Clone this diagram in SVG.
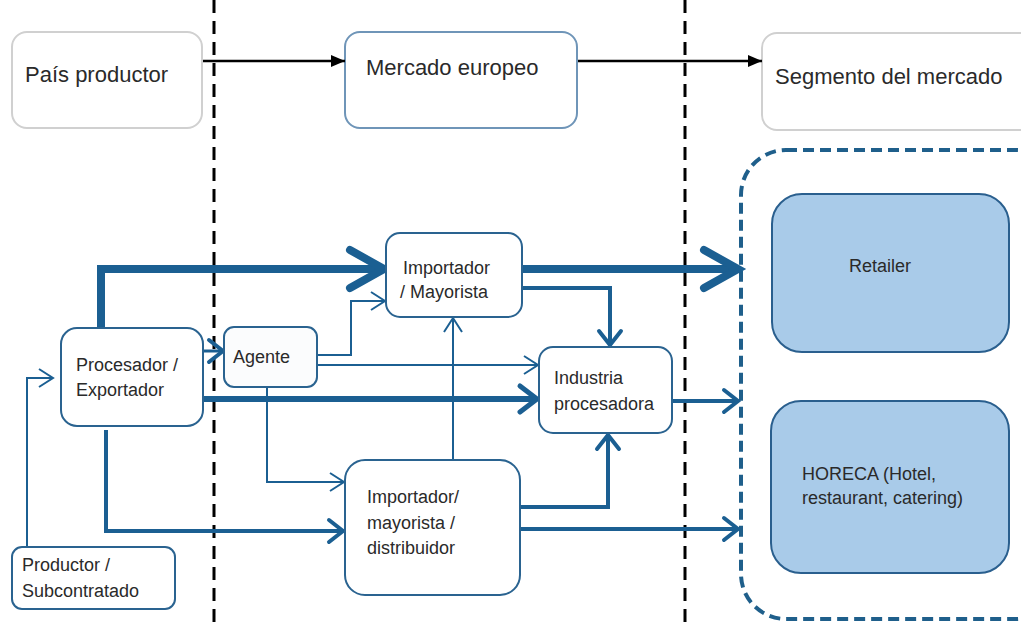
<svg xmlns="http://www.w3.org/2000/svg" width="1021" height="623" viewBox="0 0 1021 623">
<style>
text{font-family:"Liberation Sans","Open Sans",sans-serif;fill:#2a2a2a}
.big{font-size:22px}
.sm{font-size:18px}
.box{fill:#fff;stroke:#2a6390;stroke-width:2}
.seg{fill:#a9cbe9;stroke:#2a5f8e;stroke-width:2}
.gray{fill:#fff;stroke:#d0d0d0;stroke-width:2}
.c{fill:none;stroke:#1b5f92}
.divider{stroke:#000;stroke-width:3;stroke-dasharray:13 8;fill:none}
</style>
<defs>
<marker id="chevBig" markerUnits="userSpaceOnUse" markerWidth="50" markerHeight="50" refX="42" refY="25" orient="auto" overflow="visible">
<path d="M8,6 L42,25 L8,44" fill="none" stroke="#1b5f92" stroke-width="8" stroke-linecap="round"/>
</marker>
<marker id="chevLg" markerUnits="userSpaceOnUse" markerWidth="30" markerHeight="30" refX="24" refY="15" orient="auto" overflow="visible">
<path d="M7,2 L24,15 L7,28" fill="none" stroke="#1b5f92" stroke-width="5" stroke-linecap="round"/>
</marker>
<marker id="chevMed" markerUnits="userSpaceOnUse" markerWidth="30" markerHeight="30" refX="22" refY="15" orient="auto" overflow="visible">
<path d="M8,4 L22,15 L8,26" fill="none" stroke="#1b5f92" stroke-width="4" stroke-linecap="round"/>
</marker>
<marker id="chevThin" markerUnits="userSpaceOnUse" markerWidth="30" markerHeight="30" refX="22" refY="15" orient="auto" overflow="visible">
<path d="M8,6 L22,15 L8,24" fill="none" stroke="#1b5f92" stroke-width="2"/>
</marker>
<marker id="blackArrow" markerUnits="userSpaceOnUse" markerWidth="16" markerHeight="16" refX="14" refY="8" orient="auto">
<path d="M0,2 L14,8 L0,14 Z" fill="#000"/>
</marker>
</defs>

<g id="dividers">
<line class="divider" x1="214" y1="0" x2="214" y2="623"/>
<line class="divider" x1="685" y1="0" x2="685" y2="623"/>
</g>

<g id="pais-productor">
<rect class="gray" x="12" y="32" width="190" height="96" rx="15"/>
<text class="big" x="25" y="82">País productor</text>
</g>
<g id="mercado-europeo">
<rect x="345" y="32" width="232" height="96" rx="15" fill="#fff" stroke="#6f95b8" stroke-width="2"/>
<text class="big" x="366" y="75">Mercado europeo</text>
</g>
<g id="segmento-mercado">
<rect class="gray" x="762" y="33" width="280" height="97" rx="15"/>
<text class="big" x="775" y="84">Segmento del mercado</text>
</g>

<g id="segment-container">
<rect x="741" y="150" width="320" height="469" rx="45" fill="none" stroke="#1f5f8b" stroke-width="4" stroke-dasharray="11 6"/>
</g>
<g id="retailer">
<rect class="seg" x="772" y="194" width="237" height="158" rx="30"/>
<text class="sm" x="880" y="272" text-anchor="middle">Retailer</text>
</g>
<g id="horeca">
<rect class="seg" x="771" y="401" width="238" height="172" rx="30"/>
<text class="sm" x="802" y="480">HORECA (Hotel,</text>
<text class="sm" x="802" y="504">restaurant, catering)</text>
</g>

<g id="connectors">
<line x1="203" y1="61" x2="345" y2="61" stroke="#000" stroke-width="2.5" marker-end="url(#blackArrow)"/>
<line x1="578" y1="61" x2="762" y2="61" stroke="#000" stroke-width="2.5" marker-end="url(#blackArrow)"/>
<path class="c" d="M101,328 V269 H384" stroke-width="8" marker-end="url(#chevBig)"/>
<path class="c" d="M522,269 H738" stroke-width="8" marker-end="url(#chevBig)"/>
<path class="c" d="M522,288 H610 V345" stroke-width="4" marker-end="url(#chevMed)"/>
<path class="c" d="M317,355 H351 V301 H385" stroke-width="2" marker-end="url(#chevThin)"/>
<path class="c" d="M317,365 H538" stroke-width="2" marker-end="url(#chevThin)"/>
<path class="c" d="M203,399 H537" stroke-width="6" marker-end="url(#chevLg)"/>
<path class="c" d="M203,351 H223" stroke-width="3" marker-end="url(#chevMed)"/>
<path class="c" d="M672,401 H738" stroke-width="4" marker-end="url(#chevMed)"/>
<path class="c" d="M267,387 V482 H344" stroke-width="2" marker-end="url(#chevThin)"/>
<path class="c" d="M453,460 V318" stroke-width="2" marker-end="url(#chevThin)"/>
<path class="c" d="M106,430 V531 H343" stroke-width="4" marker-end="url(#chevMed)"/>
<path class="c" d="M520,507 H608 V435" stroke-width="4" marker-end="url(#chevMed)"/>
<path class="c" d="M520,529 H738" stroke-width="4" marker-end="url(#chevMed)"/>
<path class="c" d="M27,547 V378 H53" stroke-width="2" marker-end="url(#chevThin)"/>
</g>

<g id="importador-mayorista">
<rect class="box" x="386" y="233" width="136" height="84" rx="14"/>
<text class="sm" x="403" y="274">Importador</text>
<text class="sm" x="400" y="298">/ Mayorista</text>
</g>
<g id="procesador-exportador">
<rect class="box" x="61" y="328" width="142" height="98" rx="16"/>
<text class="sm" x="76" y="371">Procesador /</text>
<text class="sm" x="76" y="396">Exportador</text>
</g>
<g id="agente">
<rect x="224" y="327" width="93" height="60" rx="10" fill="#fbfcfd" stroke="#2a6390" stroke-width="2"/>
<text class="sm" x="233" y="363">Agente</text>
</g>
<g id="industria-procesadora">
<rect class="box" x="539" y="347" width="133" height="86" rx="14"/>
<text class="sm" x="554" y="384">Industria</text>
<text class="sm" x="554" y="410">procesadora</text>
</g>
<g id="importador-distribuidor">
<rect class="box" x="345" y="460" width="175" height="135" rx="20"/>
<text class="sm" x="367" y="503">Importador/</text>
<text class="sm" x="367" y="529">mayorista /</text>
<text class="sm" x="367" y="554">distribuidor</text>
</g>
<g id="productor-subcontratado">
<rect class="box" x="12" y="547" width="163" height="62" rx="10"/>
<text class="sm" x="22" y="571">Productor /</text>
<text class="sm" x="22" y="597">Subcontratado</text>
</g>
</svg>
